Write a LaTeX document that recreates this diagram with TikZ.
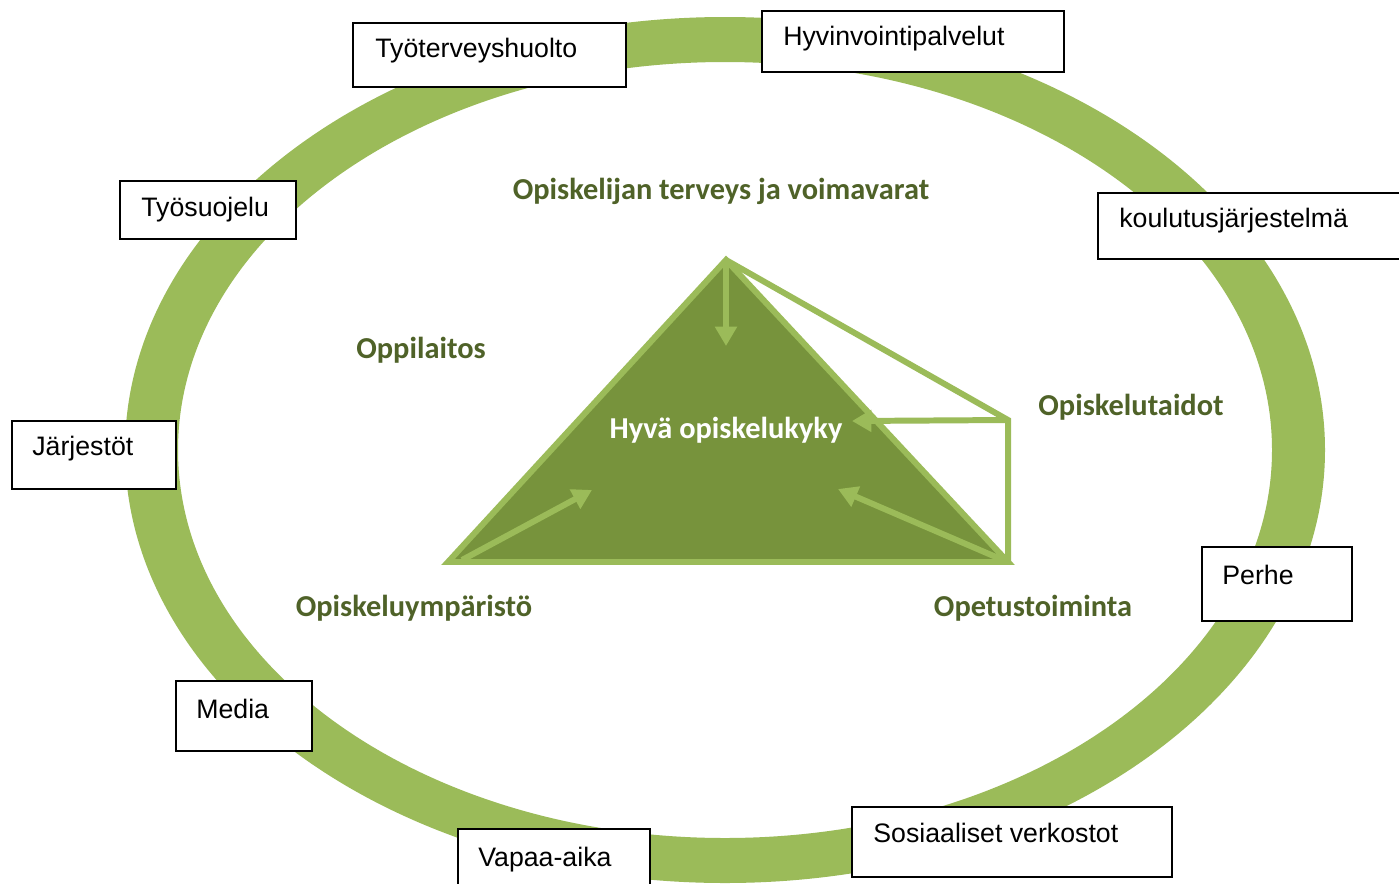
\documentclass[tikz,border=0pt]{standalone}
\usepackage{fontspec}
\setmainfont{Liberation Sans}
\newfontfamily\carlito{Carlito}
\usepackage{xcolor}
\usepackage{tikz}
\usetikzlibrary{calc}
\usetikzlibrary{arrows.meta}

\definecolor{rengasvihrea}{HTML}{9BBB59}
\definecolor{kolmiovihrea}{HTML}{77933C}
\definecolor{tekstivihrea}{HTML}{4F6228}

\tikzset{
	laatikko/.style={draw=black,fill=white,line width=1.1pt},
	laatikkoteksti/.style={anchor=base west,inner sep=0pt,font=\fontsize{15.2}{18}\selectfont},
	otsikko/.style={anchor=base,inner sep=0pt,text=tekstivihrea,font=\carlito\bfseries\fontsize{17.3}{20}\selectfont},
	reuna/.style={draw=rengasvihrea,line width=3.4pt,line join=miter},
	nuoli/.style={rengasvihrea,line width=3.4pt,-{Triangle[length=11pt,width=12pt]}}
}

\begin{document}
\begin{tikzpicture}[x=0.02cm,y=-0.02cm]
		\clip (0,0) rectangle (1399,883);
		\fill[white] (0,0) rectangle (1399,883);
		% rengas
		\fill[rengasvihrea,even odd rule] (725,450) ellipse [x radius=600,y radius=433]
			(725,450) ellipse [x radius=547,y radius=388];
		% kolmio
		\coordinate (huippu) at (726,260);
		\coordinate (vasen) at (448,562);
		\coordinate (oikea) at (1008,562);
		\coordinate (kulma) at (1008,420);
		\fill[kolmiovihrea] (huippu) -- (vasen) -- (oikea) -- cycle;
		\draw[reuna] (huippu) -- (vasen) -- (oikea) -- cycle;
		\draw[reuna] (huippu) -- (kulma) -- (oikea);
		\coordinate (alas) at (726,346);
		\coordinate (vasennuoli) at (592,490);
		\coordinate (oikeanuoli) at (838,489);
		\coordinate (sivunuoli) at (852,421);
		\draw[nuoli] (huippu) -- (alas);
		\draw[nuoli] ($(vasen)+(14,-2)$) -- (vasennuoli);
		\draw[nuoli] ($(oikea)+(-5,-2)$) -- (oikeanuoli);
		\draw[nuoli] (kulma) -- (sivunuoli);
		% tekstit
		\node[otsikko] (terveys) at (721,199) {Opiskelijan terveys ja voimavarat};
		\node[otsikko] (oppilaitos) at (421,358) {Oppilaitos};
		\node[otsikko] (taidot) at (1131,415) {Opiskelutaidot};
		\node[otsikko,text=white] (opiskelukyky) at (726,438) {Hyvä opiskelukyky};
		\node[otsikko] (ymparisto) at (414,616) {Opiskeluympäristö};
		\node[otsikko] (opetus) at (1033,616) {Opetustoiminta};
		% laatikot
		\draw[laatikko] (353,23) rectangle (626,87);
		\node[laatikkoteksti] (tyoterveyshuolto) at (375,57) {Työterveyshuolto};
		\draw[laatikko] (762,11) rectangle (1064,72);
		\node[laatikkoteksti] (hyvinvointi) at (783,45) {Hyvinvointipalvelut};
		\draw[laatikko] (120,181) rectangle (296,239);
		\node[laatikkoteksti] (tyosuojelu) at (141,216) {Työsuojelu};
		\draw[laatikko] (1098,193) rectangle (1420,259);
		\node[laatikkoteksti] (koulutus) at (1119,227) {koulutusjärjestelmä};
		\draw[laatikko] (12,421) rectangle (176,489);
		\node[laatikkoteksti] (jarjestot) at (32,455) {Järjestöt};
		\draw[laatikko] (1202,547) rectangle (1352,621);
		\node[laatikkoteksti] (perhe) at (1222,584) {Perhe};
		\draw[laatikko] (176,681) rectangle (312,751);
		\node[laatikkoteksti] (media) at (196,718) {Media};
		\draw[laatikko] (458,829) rectangle (650,900);
		\node[laatikkoteksti] (vapaaaika) at (478,866) {Vapaa-aika};
		\draw[laatikko] (852,807) rectangle (1172,877);
		\node[laatikkoteksti] (verkostot) at (873,842) {Sosiaaliset verkostot};
	\end{tikzpicture}
\end{document}
